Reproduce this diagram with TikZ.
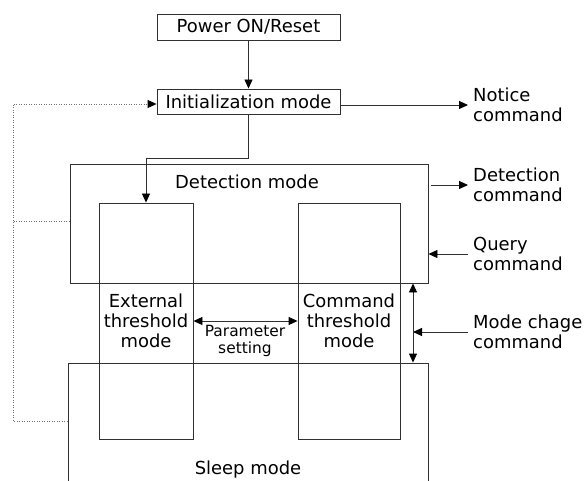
\documentclass[tikz,border=0pt]{standalone}
\usepackage{fontspec}
\setmainfont{DejaVu Sans}
\usetikzlibrary{arrows.meta}
\definecolor{linecol}{HTML}{303030}
\definecolor{dotcol}{HTML}{707070}
\tikzset{
  box/.style={draw=linecol, line width=0.9bp, inner sep=0pt},
  txt/.style={align=center, font=\fontsize{18}{20}\selectfont},
  cmdtxt/.style={align=left, anchor=west, inner xsep=5bp, font=\fontsize{18}{20}\selectfont},
  smalltxt/.style={align=center, font=\fontsize{15.5}{18}\selectfont},
  feedback/.style={draw=dotcol, dash pattern=on 1bp off 1.5bp, line width=0.9bp}
}
\begin{document}
\begin{tikzpicture}[x=1bp, y=-1bp, >={Triangle[length=9bp,width=8bp,color=black]}]
  \clip (0,0) rectangle (585,481);
  % mode boxes
  \node[box, txt, minimum width=183bp, minimum height=26bp] (power) at (248.5,27) {Power ON/Reset};
  \node[box, txt, minimum width=183bp, minimum height=25bp] (init) at (248.5,101.5) {Initialization mode};
  \node[box, minimum width=358bp, minimum height=119bp] (detect) at (249,223.5) {};
  \node[box, minimum width=360bp, minimum height=140bp] (sleep) at (248,433) {};
  \node[box, txt, minimum width=94bp, minimum height=236bp] (ext) at (146,321) {External\\threshold\\mode};
  \node[box, txt, minimum width=102bp, minimum height=236bp] (cmd) at (349,321) {Command\\threshold\\mode};
  \node[txt] (detecttext) at (247,182) {Detection mode};
  \node[txt] (sleeptext) at (248,470) {Sleep mode};
  \node[smalltxt] (param) at (245,341) {Parameter\\setting};
  % commands
  \node[cmdtxt] (notice) at (468,105) {Notice\\command};
  \node[cmdtxt] (detcmd) at (468,185) {Detection\\command};
  \node[cmdtxt] (query) at (468,254) {Query\\command};
  \node[cmdtxt] (modecmd) at (468,332) {Mode chage\\command};
  \coordinate (mc) at (413,331);
  \coordinate (fb) at (13,104);
  \begin{scope}[draw=linecol, line width=0.9bp]
    \draw[->] (power) -- (init);
    \draw[->] (init.south) -- ++(0,44) -| (ext.north);
    \draw[->] (init.east |- notice.west) -- (notice.west);
    \draw[->] ([xshift=3bp]detect.east |- detcmd.west) -- (detcmd.west);
    \draw[->] (query.west) -- (query.west -| detect.east);
    \draw[->] (modecmd.west) -- (modecmd.west -| mc);
    \draw[<->] (mc |- detect.south) -- (mc |- sleep.north);
    \draw[<->] (ext.east) -- (cmd.west);
  \end{scope}
  \draw[feedback, ->] (sleep.west |- 0,421) -| (fb) -- (init.west |- fb);
  \draw[feedback] (detect.west |- 0,221) -- (fb |- 0,221);
\end{tikzpicture}
\end{document}
